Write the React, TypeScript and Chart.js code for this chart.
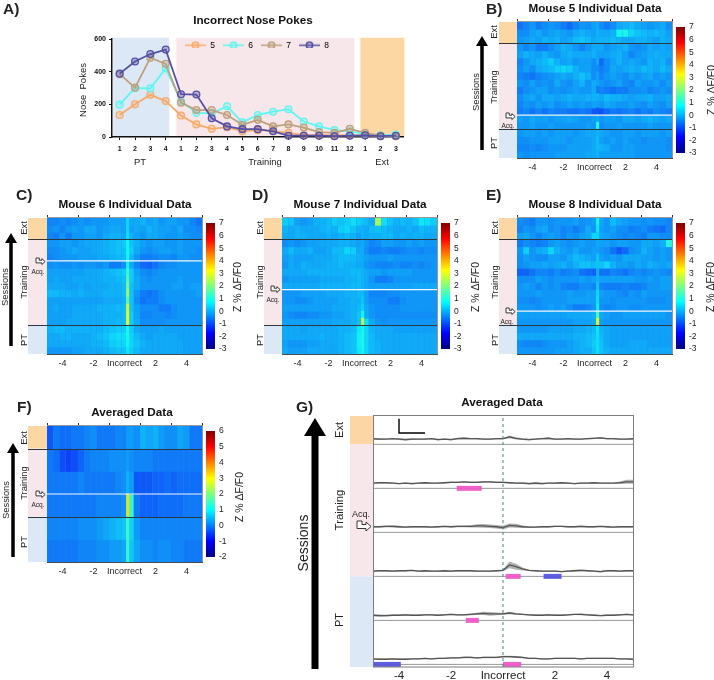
import React, { useEffect, useRef } from "react";
import { Chart, registerables } from "chart.js";

Chart.register(...registerables);
const FONT = '"Liberation Sans", Arial, sans-serif';
Chart.defaults.font.family = FONT;
Chart.defaults.color = "#222";

// ---------- Panel A ----------
const sessionLabels = ["1","2","3","4","1","2","3","4","5","6","7","8","9","10","11","12","1","2","3"];
const pokes5 = [135,200,258,220,132,77,50,60,35,42,38,25,12,12,12,10,10,5,5];
const pokes6 = [198,300,298,420,220,148,145,188,90,135,155,170,95,65,42,35,18,10,15];
const pokes7 = [385,302,485,448,210,165,165,135,75,105,65,77,58,30,25,50,25,8,5];
const pokes8 = [388,462,508,535,262,260,115,65,48,48,35,8,8,8,5,8,10,5,8];
const pokeTicks = [0, 200, 400, 600];

// ---------- Heat maps: values in tenths of Z, top row first, bins of 0.4 s ----------
const binCenters = [-4.8,-4.4,-4,-3.6,-3.2,-2.8,-2.4,-2,-1.6,-1.2,-0.8,-0.4,0,0.4,0.8,1.2,1.6,2,2.4,2.8,3.2,3.6,4,4.4,4.8];
const timeTicks = [-4, -2, 0, 2, 4];

const mouse5 = [
[-9,-7,-5,-8,-6,-5,-6,-8,-10,-7,-5,-6,-4,-6,-8,-6,-3,-2,-1,-3,-4,-5,-4,-3,-6],
[-6,-6,-4,-3,-5,-4,-3,-4,-5,-3,-2,-3,-4,-3,-3,-2,6,7,2,0,-1,-2,-1,-2,-4],
[-5,-4,-3,-4,-2,-3,-2,-4,-3,-1,0,-1,-3,-2,-2,-1,-2,-3,-3,-2,-2,-3,-4,-2,-3],
[-5,-7,-5,-8,-8,-6,-4,-2,-3,-5,-7,-5,-3,-3,-5,-4,-3,-2,-5,-6,-5,-3,-4,-3,-4],
[-4,-2,-3,-4,-2,-4,-5,-3,-2,-3,-3,-3,-2,-4,-4,-3,-2,-4,-7,-5,-4,-3,-2,-3,-3],
[-7,-5,-3,-2,-1,1,-2,-4,-3,-5,-4,-4,-6,-10,-6,-4,-2,-4,-3,-4,-5,-2,-3,-2,-5],
[-6,-4,-6,-3,-2,-1,1,2,1,-2,-4,-4,-6,-8,-6,-3,-4,-3,-2,-3,-1,-2,-3,-1,-3],
[-7,-8,-9,-7,-6,-5,-4,-3,-4,-2,0,-2,-6,-7,-5,-4,-5,-6,-4,-5,-4,-3,-5,-4,-5],
[-5,-6,-4,-6,-5,-6,-3,-5,-6,-4,-2,-5,-3,-5,-6,-5,-4,-6,-7,-4,-5,-5,-4,-6,-4],
[-8,-6,-5,-4,-4,-6,-5,-6,-5,-4,-5,-5,-3,-7,-8,-9,-8,-8,-6,-6,-5,-7,-6,-5,-6],
[-6,-4,-3,-5,-3,-3,-4,-3,-2,-3,-3,-2,-2,-3,-1,-2,-2,-3,-4,-3,-3,-2,-4,-4,-3],
[-7,-5,-6,-4,-5,-4,-6,-5,-4,-5,-4,-5,-4,-5,-3,-4,-5,-5,-4,-5,-6,-4,-5,-6,-4],
[-8,-7,-9,-7,-9,-7,-8,-8,-9,-9,-8,-9,-12,-13,-10,-8,-9,-8,-7,-9,-7,-8,-6,-7,-8],
[-4,-5,-3,-4,-4,-5,-4,-4,-3,-4,-5,-5,-4,-5,-4,-4,-5,-3,-3,-4,-3,-2,-3,-4,-3],
[-5,-5,-4,-5,-5,-4,-5,-5,-5,-5,-5,-4,-5,-6,-5,-5,-4,-5,-5,-5,-5,-4,-5,-5,-5],
[-5,-4,-4,-5,-4,-5,-4,-4,-4,-5,-4,-3,-3,-3,-4,-5,-5,-4,-4,-5,-4,-4,-4,-5,-4],
[-6,-6,-5,-5,-5,-4,-4,-4,-5,-4,-4,-4,-3,-4,-5,-4,-5,-4,-5,-5,-6,-5,-5,-5,-6],
[-7,-7,-6,-7,-6,-5,-5,-5,-4,-4,-4,-4,-3,-2,-3,-5,-5,-4,-4,-5,-5,-5,-5,-5,-6],
[-5,-6,-5,-5,-5,-5,-4,-4,-4,-4,-4,-3,-3,-4,-4,-4,-4,-4,-4,-5,-5,-5,-5,-5,-5],
];
const peak5 = [-3,-2,-2,-3,-4,-3,-6,-4,-4,-8,-2,-4,-12,-3,8,-2,-1,-1,-2];

const mouse6 = [
[-7,-7,-6,-7,-6,-5,-6,-5,-5,-5,-4,-4,-4,-3,-3,-2,-4,-3,-5,-4,-4,-5,-5,-7,-9],
[-6,-5,-7,-5,-4,-5,-3,-3,-5,-4,-3,-3,-4,-4,-3,-4,-2,-3,-4,-4,-5,-3,-6,-6,-7],
[-7,-8,-5,-8,-5,-5,-4,-4,-5,-3,-2,-2,-3,-2,-4,-5,-3,-3,-4,-5,-5,-4,-5,-6,-6],
[-5,-5,-4,-4,-5,-4,-3,-3,-3,-2,-1,0,1,0,-2,-4,-5,-4,-4,-5,-5,-4,-5,-5,-5],
[-6,-6,-5,-4,-3,-4,-4,-3,-3,-2,-1,0,0,1,-3,-5,-6,-5,-4,-4,-5,-4,-5,-5,-6],
[-7,-6,-5,-5,-5,-4,-4,-4,-3,-3,-2,-1,-1,-1,-5,-8,-8,-7,-6,-6,-7,-5,-5,-6,-6],
[-6,-5,-6,-6,-5,-6,-5,-5,-6,-5,-8,-8,-6,-3,-7,-10,-11,-9,-7,-6,-6,-5,-5,-5,-5],
[-4,-4,-4,-4,-4,-4,-3,-3,-3,-2,-1,0,1,1,-4,-6,-7,-6,-5,-5,-5,-5,-5,-5,-5],
[-4,-3,-4,-4,-3,-3,-3,-3,-3,-2,-2,-1,0,1,-3,-5,-6,-5,-5,-5,-5,-4,-5,-5,-5],
[-3,-3,-3,-4,-4,-3,-4,-3,-3,-3,-2,-2,-1,0,-3,-5,-5,-5,-5,-5,-4,-4,-5,-4,-4],
[-1,-1,-2,-2,-3,-2,-3,-3,-3,-2,-2,-2,-1,0,-5,-8,-9,-8,-6,-5,-5,-5,-5,-5,-4],
[-4,-4,-4,-4,-4,-4,-4,-4,-4,-3,-3,-3,-2,0,-6,-9,-8,-8,-6,-5,-5,-5,-5,-5,-5],
[-4,-3,-4,-4,-3,-3,-3,-3,-2,-2,-2,-1,-1,0,-4,-6,-6,-6,-8,-8,-6,-5,-5,-5,-5],
[-4,-4,-4,-4,-3,-3,-3,-3,-3,-2,-2,-2,-1,1,-4,-7,-7,-6,-6,-7,-6,-5,-5,-5,-5],
[-4,-4,-4,-3,-3,-3,-3,-3,-3,-2,-2,-1,-1,1,-3,-6,-6,-6,-6,-5,-5,-5,-5,-5,-5],
[-2,-1,-1,-2,-2,-2,-2,-2,-2,-1,0,1,1,1,-3,-4,-4,-4,-3,-4,-4,-4,-4,-4,-4],
[-3,-3,-2,-2,-3,-3,-3,-2,-1,0,2,3,3,2,-1,-3,-4,-3,-3,-3,-3,-4,-4,-4,-4],
[-3,-3,-3,-3,-3,-3,-3,-2,-2,-1,1,2,2,2,0,-2,-3,-3,-3,-3,-3,-3,-4,-4,-4],
[-5,-5,-5,-5,-4,-4,-3,-3,-3,-2,-1,0,0,1,-1,-3,-3,-3,-3,-3,-3,-3,-4,-4,-4],
];
const peak6 = [2,2,3,6,6,6,6,10,14,18,22,16,28,30,30,7,7,6,4];

const mouse7 = [
[1,0,-4,-5,-4,-2,-2,-1,1,0,1,3,1,-1,-3,22,3,0,-2,-1,-2,0,4,3,1],
[-2,-3,-2,-3,-3,-3,-2,-1,-2,1,2,0,-2,-3,-1,0,-1,-2,-3,-3,-2,-3,-1,-2,-2],
[-3,-3,-2,-2,-3,-3,-3,-2,-3,-2,-1,-2,-4,-3,-2,-2,-1,-1,-3,-2,-3,-2,-2,-3,-3],
[-6,-5,-6,-5,-4,-4,-3,-3,-3,-2,-2,-3,-4,-5,-7,-6,-4,-4,-5,-5,-4,-5,-4,-5,-5],
[-3,-1,-3,-3,-2,-4,-4,-3,-1,-1,2,1,-3,-6,-8,-8,-7,-8,-8,-7,-6,-6,-7,-6,-6],
[-4,-3,-4,-4,-4,-3,-3,-3,-2,-1,-1,-1,-2,-4,-5,-5,-5,-4,-5,-5,-5,-5,-5,-5,-5],
[-5,-3,-4,-2,-3,-3,-3,-2,-2,-1,-2,-2,-3,-5,-6,-7,-7,-7,-6,-7,-7,-6,-7,-6,-5],
[-3,-3,-3,-3,-2,-2,-2,-2,-2,-2,-2,-1,-1,-3,-4,-4,-5,-4,-4,-4,-4,-5,-5,-5,-5],
[-5,-4,-4,-4,-4,-4,-3,-3,-3,-3,-2,-2,-1,-3,-5,-8,-8,-7,-5,-5,-5,-5,-5,-5,-5],
[-3,-3,-3,-3,-3,-3,-2,-2,-2,-2,-2,-1,-1,-3,-4,-4,-4,-4,-4,-4,-4,-3,-3,-3,-3],
[-5,-5,-5,-4,-4,-4,-4,-3,-3,-3,-2,-2,-1,-4,-7,-7,-7,-6,-6,-5,-5,-5,-5,-5,-5],
[-5,-5,-6,-6,-5,-4,-4,-4,-4,-3,-3,-2,-2,-4,-6,-6,-6,-8,-8,-6,-5,-5,-5,-5,-5],
[-4,-4,-4,-4,-4,-4,-4,-4,-3,-3,-3,-2,-1,-3,-5,-6,-6,-6,-6,-5,-5,-5,-5,-5,-5],
[-5,-6,-7,-7,-6,-6,-5,-5,-4,-4,-3,-2,0,-3,-5,-6,-6,-6,-6,-6,-6,-6,-6,-6,-6],
[-4,-4,-4,-4,-4,-4,-4,-4,-3,-3,-3,-2,0,3,-3,-5,-6,-5,-5,-5,-5,-5,-5,-5,-5],
[-3,-3,-3,-4,-3,-3,-3,-3,-3,-2,-2,-1,4,2,-2,-3,-3,-3,-4,-4,-4,-4,-4,-4,-4],
[-3,-3,-3,-3,-3,-3,-2,-3,-3,-2,-1,0,5,2,-1,-3,-3,-3,-3,-3,-3,-3,-3,-3,-3],
[-4,-5,-5,-5,-4,-4,-3,-3,-3,-2,-1,0,5,2,-1,-2,-3,-3,-3,-3,-3,-3,-3,-3,-3],
[-3,-4,-4,-4,-3,-3,-3,-3,-3,-2,-1,0,4,2,-1,-2,-3,-3,-3,-3,-3,-3,-3,-3,-3],
];
const peak7 = [0,-2,-2,-3,-3,-3,-3,-2,-2,-2,-1,0,1,6,25,6,7,7,6];

const mouse8 = [
[-6,-7,-8,-5,-5,-6,-5,-5,-5,-4,-6,-5,-4,-3,-5,-1,-3,-4,-5,-5,-6,-5,-6,-6,-7],
[-7,-5,-6,-4,-3,-6,-5,-7,-6,-8,-6,-3,-5,-4,-5,-4,-6,-6,-8,-7,-6,-8,-9,-10,-7],
[-4,-3,-5,-7,-5,-4,-5,-7,-5,-6,-4,-3,2,-3,-4,-5,-6,-7,-6,-7,-8,-5,-5,-6,-6],
[-8,-6,-7,-8,-7,-5,-4,-5,-6,-5,-4,-5,-5,-4,-4,-5,-4,-4,-5,-5,-3,-3,-4,-2,8],
[-5,1,-5,-3,-2,2,-2,-4,-5,-3,-5,-5,-4,-5,-6,-9,-12,-10,-6,-5,-2,-4,-5,-4,-5],
[-6,-4,-5,-6,-6,-4,-4,-5,-3,-1,-2,-3,-4,-4,-5,-4,-5,-3,-3,-3,-4,-4,-5,-4,-5],
[-6,-5,-4,-4,-3,-4,-3,-2,-4,-2,0,0,-1,0,2,-2,-4,-4,-5,-3,-4,-2,-3,-4,-3],
[-11,-11,-9,-7,-7,-8,-6,-8,-7,-6,-9,-10,-11,-9,-9,-7,-8,-9,-7,-6,-7,-6,-5,-6,-7],
[-6,-6,-6,-4,-5,-6,-5,-5,-5,-5,-4,-5,-4,-4,-4,-4,-4,-4,-4,-5,-5,-4,-5,-4,-4],
[-5,-4,-5,-7,-5,-6,-5,-7,-8,-8,-6,-6,-7,-7,-8,-8,-8,-7,-8,-8,-7,-5,-5,-4,-4],
[-5,-5,-5,-4,-5,-5,-5,-5,-4,-5,-5,-4,-4,-4,-5,-5,-6,-7,-5,-6,-4,-5,-5,-5,-5],
[-6,-6,-7,-6,-5,-5,-5,-5,-4,-4,-4,-4,-4,-5,-5,-6,-5,-5,-5,-5,-5,-6,-6,-6,-5],
[-5,-5,-5,-6,-5,-4,-5,-4,-6,-8,-8,-7,-5,-6,-7,-6,-5,-5,-6,-6,-5,-5,-5,-5,-5],
[-4,-4,-4,-4,-4,-4,-4,-4,-3,-3,-3,-3,-2,-3,-4,-5,-5,-4,-4,-4,-4,-4,-4,-4,-5],
[-5,-5,-5,-5,-5,-5,-5,-5,-5,-4,-4,-4,-3,-4,-5,-5,-5,-5,-5,-5,-5,-5,-5,-5,-5],
[-5,-5,-5,-5,-5,-4,-4,-4,-4,-3,-3,-2,-1,-2,-3,-4,-4,-4,-4,-4,-4,-4,-4,-4,-4],
[-3,-3,-3,-3,-3,-3,-3,-3,-3,-2,-2,-1,0,-1,-3,-4,-4,-4,-4,-4,-4,-4,-4,-4,-4],
[-6,-7,-7,-7,-6,-5,-5,-5,-4,-3,-2,-1,1,0,-3,-4,-4,-4,-3,-3,-3,-4,-4,-4,-4],
[-5,-5,-5,-5,-5,-5,-4,-4,-4,-3,-2,-2,0,0,-2,-3,-3,-3,-3,-3,-3,-3,-3,-3,-3],
];
const peak8 = [6,4,2,-3,-4,0,0,-2,-2,0,2,3,5,14,30,4,3,3,3];

const averaged = [
[-6,-3,-4,-4,-3,-3,-2,-1,-3,-3,-3,-2,-2,0,-1,2,1,2,0,-1,-1,1,0,-3,-3],
[-3,-4,-7,-8,-7,-5,-3,-2,-2,-2,-1,-1,-1,-1,-2,-2,-2,-3,-3,-3,-3,-3,-3,-3,-3],
[-3,-3,-3,-3,-3,-2,-3,-3,-3,-3,-3,-2,-1,0,-6,-6,-6,-5,-5,-4,-5,-4,-4,-4,-4],
[-3,-3,-3,-3,-3,-3,-3,-3,-2,-2,-2,-2,-1,12,-3,-5,-5,-5,-4,-4,-4,-4,-3,-3,-3],
[-2,-2,-2,-2,-2,-1,-1,-1,0,1,2,3,4,5,0,-2,-2,-2,-2,-2,-2,-2,-2,-2,-2],
[-3,-3,-3,-3,-3,-2,-2,-2,-1,-1,0,0,1,4,1,-1,-1,-2,-1,-1,-2,-2,-3,-3,-3],
];
const peakAvg = [0,0,2,30,13,12];

const ticks37 = [-3,-2,-1,0,1,2,3,4,5,6,7];

// ---------- Panel G ----------
const traceTime = [-5,-4.75,-4.5,-4.25,-4,-3.75,-3.5,-3.25,-3,-2.75,-2.5,-2.25,-2,-1.75,-1.5,-1.25,-1,-0.75,-0.5,-0.25,0,0.25,0.5,0.75,1,1.25,1.5,1.75,2,2.25,2.5,2.75,3,3.25,3.5,3.75,4,4.25,4.5,4.75,5];
const trace0 = [0,-.1,-.1,0,-.1,-.2,-.1,-.1,-.1,0,-.2,-.1,-.2,0,.1,0,0,-.1,-.1,0,0,.4,.1,-.1,-.2,-.1,0,.1,-.1,-.1,0,-.1,-.1,0,.1,.2,0,0,-.1,-.1,0];
const trace1 = [-.1,0,0,-.1,-.2,-.1,-.2,-.1,0,-.1,-.1,0,.1,.1,.2,.1,.1,.2,.2,.1,.1,0,-.1,-.1,-.2,-.1,-.2,-.1,-.1,0,-.1,-.2,-.1,-.1,0,-.1,-.1,-.1,0,.2,.2];
const trace2 = [0,0,.1,.1,0,-.1,0,0,0,-.1,0,.1,0,.1,.1,.1,.2,.2,.1,0,-.2,.3,.2,0,-.1,-.1,0,0,.1,.1,0,0,.1,0,0,.1,0,-.1,0,0,0];
const trace3 = [-.1,0,0,-.1,0,0,.1,-.1,0,-.1,-.1,0,-.1,0,0,0,-.1,-.1,-.1,0,.1,1.3,.9,.4,.1,0,-.1,-.1,-.1,-.2,-.1,0,.1,0,-.1,-.2,0,0,-.1,0,0];
const trace4 = [-.1,-.2,-.2,-.1,-.1,0,-.1,-.1,0,0,-.1,0,.1,0,0,.1,.2,.3,.2,.2,.2,.4,.2,.1,0,-.1,-.1,0,-.1,-.1,0,.1,.1,0,-.1,-.2,-.1,-.1,0,.1,0];
const trace5 = [0,-.1,-.1,0,-.1,-.1,0,0,.1,0,.1,.1,.2,.2,.3,.3,.2,.3,.3,.3,.5,.5,.4,.3,.1,.1,0,0,.1,.1,.1,.1,0,.1,.1,.1,.1,.1,0,0,-.1];
const sem0 = [.2,.2,.15,.15,.2,.25,.2,.15,.15,.15,.2,.15,.2,.2,.2,.15,.15,.15,.15,.15,.15,.3,.25,.2,.2,.15,.15,.2,.15,.15,.15,.15,.15,.15,.15,.2,.15,.15,.15,.15,.15];
const sem1 = [.15,.15,.15,.15,.15,.15,.2,.15,.15,.15,.15,.15,.15,.15,.15,.15,.15,.2,.2,.15,.15,.15,.15,.2,.2,.25,.2,.15,.15,.15,.15,.15,.15,.15,.15,.15,.15,.15,.25,.45,.45];
const sem2 = [.15,.15,.2,.25,.2,.15,.15,.15,.15,.15,.15,.15,.15,.2,.2,.25,.35,.4,.4,.4,.4,.45,.45,.3,.2,.15,.15,.15,.15,.15,.15,.15,.2,.15,.15,.15,.15,.15,.15,.15,.15];
const sem3 = [.15,.15,.15,.15,.15,.15,.15,.15,.15,.15,.15,.15,.15,.15,.15,.15,.15,.15,.15,.15,.2,.75,.65,.35,.15,.15,.15,.15,.15,.15,.15,.2,.2,.15,.15,.2,.15,.15,.15,.15,.15];
const sem4 = [.2,.25,.2,.15,.15,.15,.15,.15,.15,.15,.15,.15,.15,.15,.15,.2,.25,.35,.4,.3,.2,.3,.2,.15,.15,.15,.15,.15,.15,.15,.15,.15,.2,.15,.15,.15,.15,.15,.15,.15,.15];
const sem5 = [.15,.15,.15,.15,.15,.15,.15,.15,.15,.15,.15,.15,.15,.15,.2,.2,.15,.15,.15,.15,.2,.2,.2,.15,.15,.15,.15,.15,.15,.15,.15,.15,.15,.15,.15,.15,.15,.15,.15,.15,.15];
const traces = [trace0, trace1, trace2, trace3, trace4, trace5];
const sems = [sem0, sem1, sem2, sem3, sem4, sem5];
// row index, start (s), end (s)
const sigPink = [[1,-1.78,-0.82],[3,0.1,0.68],[4,-1.43,-0.93],[5,0,0.7]];
const sigBlue = [[3,1.56,2.25],[5,-5,-3.93]];

const ORANGE = "rgb(253,215,163)";
const PINK = "rgb(248,231,234)";
const BLUE = "rgb(220,232,245)";

const clamp = (x: number) => Math.max(0, Math.min(1, x));
// jet, slightly washed out as in the printed figure
function jet(v: number, lo: number, hi: number) {
  const t = clamp((v + 0.2 - lo) / (hi - lo));
  const r = clamp(Math.min(4 * t - 1.5, -4 * t + 4.5));
  const g = clamp(Math.min(4 * t - 0.5, -4 * t + 3.5));
  const b = clamp(Math.min(4 * t + 0.5, -4 * t + 2.5));
  const mix = (c: number, m: number) => Math.round(c * 255 * 0.88 + m * 0.12);
  return `rgb(${mix(r, 128)},${mix(g, 170)},${mix(b, 200)})`;
}
const fixedWidth = (w: number) => (s: any) => { s.width = w; };
const fixedHeight = (h: number) => (s: any) => { s.height = h; };
const setTicks = (vals: number[]) => (s: any) => { s.ticks = vals.map((value) => ({ value })); };
const spacerAxis = (w: number, position: string) => ({
  position, type: "linear", min: 0, max: 1,
  ticks: { display: false }, grid: { display: false }, border: { display: false }, afterFit: fixedWidth(w),
});
const timeLabel = (v: any) => (Number(v) === 0 ? "Incorrect" : String(v));

// the cells of a heat map
function cellsConfig(p: any) {
  const { rows, peak, lo, hi } = p;
  const datasets: any[] = rows.map((row: number[], r: number) => ({
    data: row.map((v, c) => ({ x: binCenters[c], y: [r, r + 1] })),
    backgroundColor: row.map((v) => jet(v / 10, lo, hi)),
    barPercentage: 2.05, inflateAmount: 0.5, grouped: false,
  }));
  datasets.push({
    data: peak.map((v: number, r: number) => ({ x: 0.2, y: [r, r + 1] })),
    backgroundColor: peak.map((v: number) => jet(v / 10, lo, hi)),
    barPercentage: 1, inflateAmount: 0.3, grouped: false, order: -1,
  });
  return {
    type: "bar",
    data: { datasets },
    options: {
      responsive: false, animation: false, devicePixelRatio: 1, events: [],
      plugins: { legend: { display: false }, tooltip: { enabled: false }, title: { display: false } },
      scales: {
        x: { type: "linear", display: false, min: -5, max: 5, offset: false },
        y: { type: "linear", display: false, min: 0, max: rows.length, reverse: true },
      },
    },
  };
}

// the axes, title, side stripes and dividers around the cells
function frameConfig(p: any) {
  const { rows, L, R, stripeL, titleX, title, bands, whiteRow, axisH } = p;
  const W = 2 * (titleX - stripeL);
  const decor = {
    id: "decor",
    beforeDraw(c: any) {
      const { ctx, chartArea: a, scales } = c;
      ctx.save();
      bands.forEach(([s, e, col]: any) => {
        ctx.fillStyle = col;
        const y0 = scales.y.getPixelForValue(s), y1 = scales.y.getPixelForValue(e);
        ctx.fillRect(a.left - (L - stripeL), y0, L - stripeL, y1 - y0);
      });
      ctx.restore();
    },
    afterDraw(c: any) {
      const { ctx, chartArea: a, scales } = c;
      ctx.save();
      ctx.strokeStyle = "rgb(150,150,155)";
      ctx.lineWidth = 1;
      ctx.beginPath();
      ctx.moveTo(a.left, a.top - 0.5); ctx.lineTo(a.right + 0.5, a.top - 0.5); ctx.lineTo(a.right + 0.5, a.bottom);
      ctx.stroke();
      ctx.strokeStyle = "rgb(45,55,60)";
      bands.slice(1).forEach(([s]: any) => {
        const y = Math.round(scales.y.getPixelForValue(s)) + 0.5;
        ctx.beginPath(); ctx.moveTo(a.left - (L - stripeL), y); ctx.lineTo(a.right, y); ctx.stroke();
      });
      ctx.strokeStyle = "#f4f6f8";
      ctx.lineWidth = 1.2;
      const wy = scales.y.getPixelForValue(whiteRow);
      ctx.beginPath(); ctx.moveTo(a.left, wy); ctx.lineTo(a.right, wy); ctx.stroke();
      ctx.restore();
    },
  };
  return {
    type: "bar",
    data: { datasets: [] },
    plugins: [decor],
    options: {
      responsive: false, animation: false, devicePixelRatio: 1, events: [],
      plugins: {
        legend: { display: false }, tooltip: { enabled: false },
        title: { display: true, text: title, color: "#111", font: { size: 11.7, weight: "bold", lineHeight: "12px" }, padding: { top: 1, bottom: 4 } },
      },
      scales: {
        x: {
          type: "linear", position: "bottom", min: -5, max: 5, offset: false,
          afterBuildTicks: setTicks(timeTicks), afterFit: fixedHeight(axisH),
          ticks: { callback: timeLabel, font: { size: 9 }, color: "#222", padding: 4, autoSkip: false, maxRotation: 0 },
          grid: { display: false, drawTicks: false }, border: { color: "rgb(70,75,80)", width: 1 },
        },
        xTop: {
          type: "linear", position: "top", min: -5, max: 5, offset: false,
          afterBuildTicks: setTicks(timeTicks), afterFit: fixedHeight(3),
          ticks: { display: false },
          grid: { drawOnChartArea: false, drawTicks: true, tickLength: 3, color: "#333" }, border: { display: false },
        },
        y: { ...spacerAxis(L - stripeL, "left"), min: 0, max: rows.length, reverse: true },
        yR: spacerAxis(stripeL + W - R, "right"),
      },
    },
  };
}

function barConfig(lo: number, hi: number, ticks: number[]) {
  const gradient = (ctx: any) => {
    const a = ctx.chart.chartArea;
    if (!a) return "blue";
    const g = ctx.chart.ctx.createLinearGradient(0, a.bottom, 0, a.top);
    [[0, "rgb(0,0,128)"], [0.125, "rgb(0,0,255)"], [0.375, "rgb(0,255,255)"], [0.625, "rgb(255,255,0)"], [0.875, "rgb(255,0,0)"], [1, "rgb(128,0,0)"]]
      .forEach(([s, c]: any) => g.addColorStop(s, c));
    return g;
  };
  return {
    type: "bar",
    data: { labels: [""], datasets: [{ data: [[lo, hi]], backgroundColor: gradient, barPercentage: 1, categoryPercentage: 1 }] },
    options: {
      responsive: false, animation: false, devicePixelRatio: 1, events: [],
      layout: { padding: { top: 4, bottom: 4 } },
      plugins: { legend: { display: false }, tooltip: { enabled: false } },
      scales: {
        x: { display: false },
        y: {
          position: "right", min: lo, max: hi, afterBuildTicks: setTicks(ticks), afterFit: fixedWidth(20),
          ticks: { font: { size: 8.5 }, color: "#222", padding: 4, autoSkip: false },
          grid: { display: false, drawTicks: false }, border: { display: false },
        },
      },
    },
  };
}

// Panel A
const pokeSeries = [
  { label: "5", data: pokes5, color: "rgb(248,170,105)", fill: "rgba(248,170,105,0.3)" },
  { label: "6", data: pokes6, color: "rgb(95,245,240)", fill: "rgba(95,245,240,0.3)" },
  { label: "7", data: pokes7, color: "rgb(190,160,125)", fill: "rgba(190,160,125,0.35)" },
  { label: "8", data: pokes8, color: "rgb(85,80,165)", fill: "rgba(85,80,165,0.35)" },
];
function pokesConfig() {
  const bandRanges = [[-0.42, 3.23, BLUE], [3.69, 15.3, PINK], [15.69, 18.56, ORANGE]];
  const bg = {
    id: "bands",
    beforeDraw(c: any) {
      const { ctx, chartArea: a, scales } = c;
      ctx.save();
      bandRanges.forEach(([s, e, col]: any) => {
        ctx.fillStyle = col;
        const x0 = scales.x.getPixelForValue(s), x1 = scales.x.getPixelForValue(e);
        ctx.fillRect(x0, a.top - 1.3, x1 - x0, a.bottom - a.top + 1.3);
      });
      ctx.restore();
    },
  };
  return {
    type: "line",
    data: {
      labels: sessionLabels,
      datasets: pokeSeries.map((s, i) => ({
        label: s.label, data: s.data, borderColor: s.color, backgroundColor: s.fill, borderWidth: 1.8, pointRadius: 3.4,
        pointBorderWidth: 1.3, pointBackgroundColor: s.fill, pointBorderColor: s.color, tension: 0, clip: false, order: -i,
      })),
    },
    plugins: [bg],
    options: {
      responsive: false, animation: false, devicePixelRatio: 1, events: [],
      plugins: {
        tooltip: { enabled: false },
        legend: { display: false },
        title: { display: true, text: "Incorrect Nose Pokes", color: "#111", font: { size: 11.7, weight: "bold", lineHeight: "12px" }, padding: { top: 0, bottom: 12 } },
      },
      scales: {
        x: {
          offset: true, afterFit: fixedHeight(24),
          ticks: { font: { size: 7, weight: "bold" }, color: "#111", padding: 5, autoSkip: false, maxRotation: 0 },
          grid: { drawOnChartArea: false, tickLength: 3, color: "#111", lineWidth: 1 }, border: { color: "#111", width: 1.5 },
        },
        y: {
          min: 0, max: 600, afterBuildTicks: setTicks(pokeTicks), afterFit: fixedWidth(52),
          ticks: { font: { size: 7, weight: "bold" }, color: "#111", padding: 3 },
          grid: { drawOnChartArea: false, tickLength: 3, color: "#111", lineWidth: 1 }, border: { color: "#111", width: 1.5 },
        },
        yR: spacerAxis(42.5, "right"),
      },
    },
  };
}
const legendSwatch = (color: string) => {
  const c = document.createElement("canvas");
  c.width = 21; c.height = 9;
  const g = c.getContext("2d")!;
  g.strokeStyle = color; g.lineWidth = 1.5;
  g.beginPath(); g.moveTo(0, 4.5); g.lineTo(21, 4.5); g.stroke();
  g.beginPath(); g.arc(10.5, 4.5, 3.2, 0, 7); g.globalAlpha = 0.35; g.fillStyle = color; g.fill(); g.globalAlpha = 1; g.stroke();
  return c;
};
function legendConfig() {
  return {
    type: "line",
    data: { labels: [], datasets: pokeSeries.map((s) => ({ label: s.label, data: [], borderColor: s.color })) },
    options: {
      responsive: false, animation: false, devicePixelRatio: 1, events: [],
      scales: { x: { display: false }, y: { display: false } },
      plugins: {
        tooltip: { enabled: false },
        legend: {
          position: "top", align: "center",
          labels: {
            usePointStyle: true, pointStyleWidth: 21, boxHeight: 9, padding: 8, font: { size: 8.5 }, color: "#222",
            generateLabels: (c: any) => c.data.datasets.map((d: any, i: number) => ({
              text: d.label, datasetIndex: i, pointStyle: legendSwatch(d.borderColor), fillStyle: d.borderColor, strokeStyle: d.borderColor, lineWidth: 1,
            })),
          },
        },
      },
    },
  };
}

// Panel G: y is in Z units, one row every 9.82 units
function tracesConfig() {
  const yMax = 56;
  const base = (r: number) => 0.58 + (5 - r) * 9.82;
  const zero = (r: number) => base(r) + 1.25;
  const datasets: any[] = [];
  traces.forEach((tr, r) => {
    datasets.push({ data: [{ x: -5, y: base(r) }, { x: 5, y: base(r) }], borderColor: "rgb(150,152,152)", borderWidth: 1, pointRadius: 0, order: 5 });
  });
  sigPink.forEach(([r, a, b]) => datasets.push({ data: [{ x: a, y: base(r) }, { x: b, y: base(r) }], borderColor: "rgba(238,90,200,0.95)", borderWidth: 5, pointRadius: 0, order: 4 }));
  sigBlue.forEach(([r, a, b]) => datasets.push({ data: [{ x: a, y: base(r) }, { x: b, y: base(r) }], borderColor: "rgba(85,85,222,0.95)", borderWidth: 5, pointRadius: 0, order: 4 }));
  traces.forEach((tr, r) => {
    datasets.push({ data: tr.map((v, i) => ({ x: traceTime[i], y: zero(r) + v + sems[r][i] })), borderWidth: 0, pointRadius: 0, borderColor: "transparent", order: 3 });
    datasets.push({ data: tr.map((v, i) => ({ x: traceTime[i], y: zero(r) + v - sems[r][i] })), borderWidth: 0, pointRadius: 0, borderColor: "transparent", fill: "-1", backgroundColor: "rgba(165,165,165,0.85)", order: 3 });
    datasets.push({ data: tr.map((v, i) => ({ x: traceTime[i], y: zero(r) + v })), borderColor: "rgb(85,85,85)", borderWidth: 1.3, pointRadius: 0, order: 2 });
  });
  datasets.push({ data: [{ x: 0, y: 0 }, { x: 0, y: yMax }], borderColor: "rgb(70,130,130)", borderWidth: 1, borderDash: [3, 3], pointRadius: 0, order: 1 });
  datasets.push({ data: [{ x: -4, y: 55.4 }, { x: -4, y: 52.2 }, { x: -3, y: 52.2 }], borderColor: "#000", borderWidth: 1.4, pointRadius: 0, order: 0 });
  const decor = {
    id: "decor",
    beforeDraw(c: any) {
      const { ctx, chartArea: a, scales } = c;
      ctx.save();
      [[yMax, base(0), ORANGE], [base(0), base(3), PINK], [base(3), 0, BLUE]].forEach(([s, e, col]: any) => {
        const y0 = scales.y.getPixelForValue(s), y1 = scales.y.getPixelForValue(e);
        ctx.fillStyle = col;
        ctx.fillRect(a.left - 23, y0, 23, y1 - y0);
      });
      ctx.restore();
    },
    afterDatasetsDraw(c: any) {
      const { ctx, chartArea: a } = c;
      ctx.save();
      ctx.strokeStyle = "rgb(125,125,125)";
      ctx.lineWidth = 1;
      ctx.strokeRect(a.left + 0.5, a.top - 0.5, a.right - a.left, a.bottom - a.top + 0.5);
      ctx.restore();
    },
  };
  return {
    type: "line",
    data: { datasets },
    plugins: [decor],
    options: {
      responsive: false, animation: false, devicePixelRatio: 1, events: [],
      elements: { line: { tension: 0 } },
      plugins: {
        legend: { display: false }, tooltip: { enabled: false },
        title: { display: true, text: "Averaged Data", color: "#111", font: { size: 11.7, weight: "bold", lineHeight: "12px" }, padding: { top: 1, bottom: 7 } },
      },
      scales: {
        x: {
          type: "linear", position: "bottom", min: -5, max: 5, afterBuildTicks: setTicks(timeTicks), afterFit: fixedHeight(13),
          ticks: { callback: timeLabel, font: { size: 11.5 }, color: "#222", padding: 2, autoSkip: false, maxRotation: 0 },
          grid: { display: false, drawTicks: false }, border: { display: false },
        },
        y: { ...spacerAxis(23, "left"), min: 0, max: yMax },
        yR: spacerAxis(21, "right"),
      },
    },
  };
}

function Plot({ left, top, width, height, make, blur }: any) {
  const ref = useRef<HTMLCanvasElement>(null);
  useEffect(() => {
    const chart = new Chart(ref.current as any, make());
    return () => chart.destroy();
  }, []);
  return <canvas ref={ref} width={width} height={height} style={{ position: "absolute", left, top, width, height, display: "block", filter: blur ? `blur(${blur}px)` : undefined }} />;
}

const bands19 = [[0, 3, ORANGE], [3, 15, PINK], [15, 19, BLUE]];
const bands6 = [[0, 1, ORANGE], [1, 4, PINK], [4, 6, BLUE]];
const panels = [
  { id: "B", rows: mouse5, peak: peak5, lo: -3, hi: 7, tk: ticks37, L: 517, R: 672, T: 22, B: 158, stripeL: 499, titleX: 595, title: "Mouse 5 Individual Data", bands: bands19, whiteRow: 13 },
  { id: "C", rows: mouse6, peak: peak6, lo: -3, hi: 7, tk: ticks37, L: 47, R: 202, T: 218, B: 354, stripeL: 28, titleX: 125, title: "Mouse 6 Individual Data", bands: bands19, whiteRow: 6 },
  { id: "D", rows: mouse7, peak: peak7, lo: -3, hi: 7, tk: ticks37, L: 282, R: 437, T: 218, B: 354, stripeL: 264, titleX: 360, title: "Mouse 7 Individual Data", bands: bands19, whiteRow: 10 },
  { id: "E", rows: mouse8, peak: peak8, lo: -3, hi: 7, tk: ticks37, L: 517, R: 672, T: 218, B: 354, stripeL: 499, titleX: 595, title: "Mouse 8 Individual Data", bands: bands19, whiteRow: 13 },
  { id: "F", rows: averaged, peak: peakAvg, lo: -2, hi: 6, tk: [-2,-1,0,1,2,3,4,5,6], L: 47, R: 202, T: 426, B: 562, stripeL: 28, titleX: 132, title: "Averaged Data", bands: bands6, whiteRow: 3 },
];

const Rot = ({ x, y, size, children, weight }: any) => (
  <text x={x} y={y} fontSize={size} fontWeight={weight} fill="#222" textAnchor="middle" dominantBaseline="central" transform={`rotate(-90 ${x} ${y})`} style={{ whiteSpace: "pre" }}>{children}</text>
);
const Txt = ({ x, y, size, children, weight, anchor = "middle" }: any) => (
  <text x={x} y={y} fontSize={size} fontWeight={weight} fill="#222" textAnchor={anchor} dominantBaseline="central">{children}</text>
);
const UpArrow = ({ x, y0, y1, head, shaft, headH }: any) => (
  <polygon fill="#000" points={`${x - shaft / 2},${y0} ${x + shaft / 2},${y0} ${x + shaft / 2},${y1 + headH} ${x + head / 2},${y1 + headH} ${x},${y1} ${x - head / 2},${y1 + headH} ${x - shaft / 2},${y1 + headH}`} />
);
const AcqArrow = ({ x, y, s }: any) => (
  <polygon transform={`translate(${x} ${y}) scale(${s})`} fill="#fff" stroke="#333" strokeWidth={1.4 / s * 0.7}
    points="0,0 5,0 5,3.5 9,3.5 9,1 14,5.5 9,10 9,7.5 0,7.5" />
);

export default function App() {
  return (
    <div style={{ position: "absolute", left: 0, top: 0, width: 714, height: 680, overflow: "hidden", background: "#fff", fontFamily: FONT }}>
      <Plot left={60} top={15} width={386} height={146} make={pokesConfig} />
      <Plot left={157} top={33} width={200} height={30} make={legendConfig} />
      {panels.map((p) => {
        const W = 2 * (p.titleX - p.stripeL);
        return (
          <React.Fragment key={p.id}>
            <div style={{ position: "absolute", left: p.L, top: p.T, width: p.R - p.L, height: p.B - p.T, overflow: "hidden", background: "rgb(40,140,232)" }}>
              <Plot left={0} top={0} width={p.R - p.L} height={p.B - p.T} blur={0.7} make={() => cellsConfig(p)} />
            </div>
            <Plot left={p.stripeL} top={p.T - 20} width={W} height={p.B - p.T + 20 + 16}
              make={() => frameConfig({ ...p, axisH: 16 })} />
            <Plot left={p.R + 4} top={p.T - 4} width={29} height={p.B - p.T + 8}
              make={() => barConfig(p.lo, p.hi, p.tk)} />
          </React.Fragment>
        );
      })}
      <Plot left={350} top={396} width={304} height={284} make={tracesConfig} />
      <svg width={714} height={680} style={{ position: "absolute", left: 0, top: 0, fontFamily: FONT }}>
        <Txt x={3} y={8} size={15.5} weight="bold" anchor="start">A)</Txt>
        <Txt x={486} y={8} size={15.5} weight="bold" anchor="start">B)</Txt>
        <Txt x={16} y={194} size={15.5} weight="bold" anchor="start">C)</Txt>
        <Txt x={252} y={194} size={15.5} weight="bold" anchor="start">D)</Txt>
        <Txt x={486} y={194} size={15.5} weight="bold" anchor="start">E)</Txt>
        <Txt x={17} y={406} size={15.5} weight="bold" anchor="start">F)</Txt>
        <Txt x={296} y={406} size={15.5} weight="bold" anchor="start">G)</Txt>

        <Rot x={82} y={90} size={9.5}>{"Nose  Pokes"}</Rot>
        <Txt x={140} y={161} size={9.4}>PT</Txt>
        <Txt x={265} y={161} size={9.4}>Training</Txt>
        <Txt x={382} y={161} size={9.4}>Ext</Txt>

        {/* B */}
        <UpArrow x={482} y0={150} y1={36} head={12} shaft={3.5} headH={10} />
        <Rot x={475} y={92} size={9.4}>Sessions</Rot>
        <Rot x={493} y={32} size={9.4}>Ext</Rot>
        <Rot x={493} y={87} size={9.4}>Training</Rot>
        <Rot x={493} y={143} size={9.4}>PT</Rot>
        <AcqArrow x={506} y={113} s={0.65} />
        <Txt x={508} y={125} size={6.5}>Acq.</Txt>
        <Rot x={711} y={90} size={10.5}>Z % ΔF/F0</Rot>

        {/* C */}
        <UpArrow x={11} y0={346} y1={233} head={12} shaft={3.5} headH={10} />
        <Rot x={4} y={287} size={9.4}>Sessions</Rot>
        <Rot x={23} y={228} size={9.4}>Ext</Rot>
        <Rot x={23} y={282} size={9.4}>Training</Rot>
        <Rot x={23} y={340} size={9.4}>PT</Rot>
        <AcqArrow x={36} y={258} s={0.65} />
        <Txt x={38} y={271} size={6.5}>Acq.</Txt>
        <Rot x={237} y={287} size={10.5}>Z % ΔF/F0</Rot>

        {/* D */}
        <Rot x={259} y={228} size={9.4}>Ext</Rot>
        <Rot x={259} y={282} size={9.4}>Training</Rot>
        <Rot x={259} y={340} size={9.4}>PT</Rot>
        <AcqArrow x={271} y={286} s={0.65} />
        <Txt x={273} y={299} size={6.5}>Acq.</Txt>
        <Rot x={475} y={287} size={10.5}>Z % ΔF/F0</Rot>

        {/* E */}
        <Rot x={494} y={228} size={9.4}>Ext</Rot>
        <Rot x={494} y={282} size={9.4}>Training</Rot>
        <Rot x={494} y={340} size={9.4}>PT</Rot>
        <AcqArrow x={506} y={308} s={0.65} />
        <Txt x={507} y={321} size={6.5}>Acq.</Txt>
        <Rot x={710} y={287} size={10.5}>Z % ΔF/F0</Rot>

        {/* F */}
        <UpArrow x={13} y0={557} y1={443} head={12} shaft={3.5} headH={10} />
        <Rot x={5} y={500} size={9.4}>Sessions</Rot>
        <Rot x={23} y={438} size={9.4}>Ext</Rot>
        <Rot x={23} y={483} size={9.4}>Training</Rot>
        <Rot x={23} y={542} size={9.4}>PT</Rot>
        <AcqArrow x={36} y={491} s={0.65} />
        <Txt x={38} y={504} size={6.5}>Acq.</Txt>
        <Rot x={239} y={497} size={10.5}>Z % ΔF/F0</Rot>

        {/* G */}
        <UpArrow x={315} y0={669} y1={418} head={22} shaft={7} headH={18} />
        <Rot x={303} y={543} size={14}>Sessions</Rot>
        <Rot x={339} y={430} size={11}>Ext</Rot>
        <Rot x={339} y={510} size={11.4}>Training</Rot>
        <Rot x={339} y={620} size={11}>PT</Rot>
        <Txt x={361} y={514} size={9}>Acq.</Txt>
        <AcqArrow x={357} y={521} s={1} />
      </svg>
    </div>
  );
}
